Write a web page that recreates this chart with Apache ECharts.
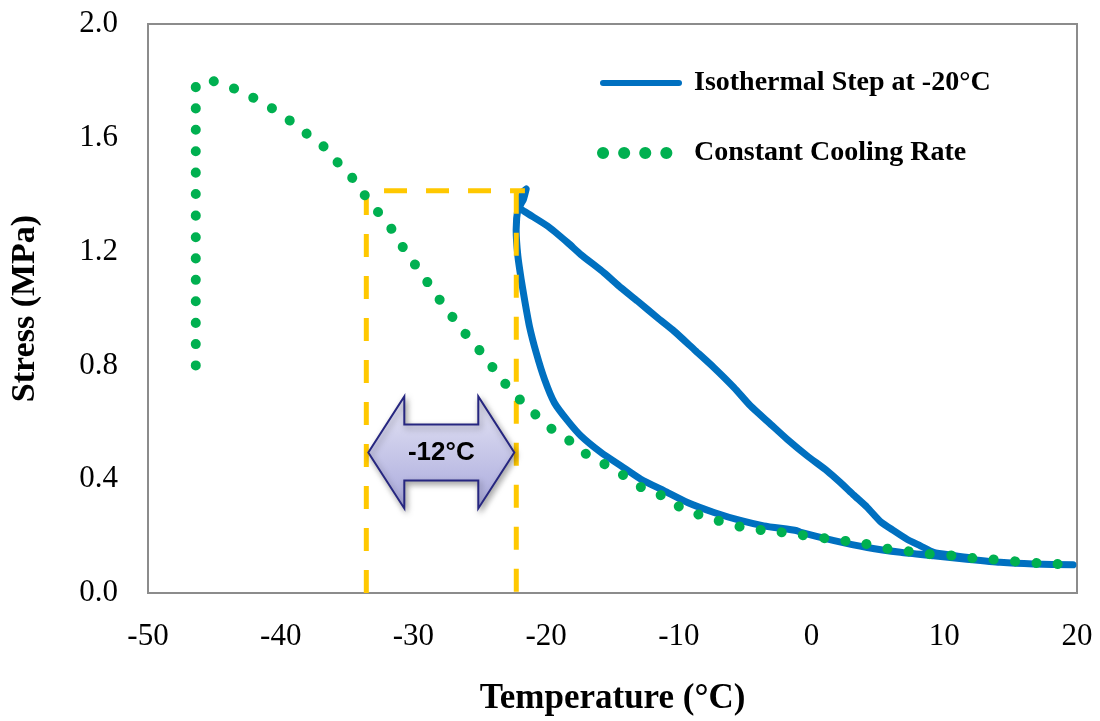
<!DOCTYPE html>
<html lang="en">
<head>
    <meta charset="UTF-8">
    <title>Stress vs Temperature</title>
    <script src="https://cdn.jsdelivr.net/npm/echarts@6/dist/echarts.min.js"></script>
    <style type="text/css">
        body { margin: 0; background: #fff; }
    </style>
</head>
<body>
<div id="myChart" style="width: 1100px;height:721px;"></div>

<script>
    // Isothermal step at -20°C : [temperature, stress]
    var isothermal = [
        [19.7, 0.099], [16.7, 0.102], [14.2, 0.108], [11.7, 0.119], [9.2, 0.131], [6.7, 0.143],
        [4.2, 0.160], [1.7, 0.184], [-0.8, 0.213], [-1.1, 0.219], [-3.6, 0.236], [-5.3, 0.254],
        [-7.35, 0.283], [-9.35, 0.318], [-11.1, 0.359], [-12.86, 0.400], [-14.36, 0.447],
        [-15.86, 0.494], [-17.37, 0.552], [-18.37, 0.605], [-19.38, 0.669], [-20.12, 0.751],
        [-20.75, 0.845], [-21.26, 0.938], [-21.63, 1.032], [-21.88, 1.102], [-22.13, 1.184],
        [-22.26, 1.277], [-22.1, 1.36], [-21.75, 1.41], [-21.5, 1.42], [-21.7, 1.385],
        [-22.0, 1.355], [-21.63, 1.341], [-19.87, 1.289], [-18.37, 1.231], [-17.37, 1.189],
        [-15.62, 1.125], [-14.36, 1.073], [-13.11, 1.026], [-11.6, 0.967], [-10.35, 0.920],
        [-8.85, 0.856], [-7.35, 0.792], [-5.84, 0.722], [-4.59, 0.657], [-3.08, 0.593],
        [-1.83, 0.540], [-0.33, 0.482], [1.18, 0.429], [2.18, 0.388], [3.18, 0.344],
        [4.19, 0.301], [5.19, 0.251], [6.19, 0.219], [7.19, 0.189], [8.2, 0.166],
        [9.2, 0.143], [10.5, 0.133], [12.0, 0.124]
    ];

    // Constant cooling rate : [temperature, stress]
    var constantRate = [
        [-46.4, 0.80], [-46.4, 1.78], [-45.9, 1.80], [-45.3, 1.80], [-44.1, 1.785], [-42.8, 1.757],
        [-41.1, 1.718], [-40.1, 1.684], [-38.95, 1.649], [-37.9, 1.609], [-36.8, 1.571],
        [-35.8, 1.518], [-34.76, 1.468], [-33.86, 1.41], [-32.9, 1.352], [-31.9, 1.297],
        [-31.15, 1.241], [-30.28, 1.18], [-29.35, 1.12], [-28.5, 1.062], [-27.65, 1.007],
        [-26.71, 0.949], [-25.77, 0.893], [-24.89, 0.846], [-24.0, 0.791], [-23.18, 0.741],
        [-22.18, 0.689], [-21.26, 0.649], [-20.23, 0.601], [-19.17, 0.563], [-18.17, 0.533],
        [-17.07, 0.491], [-15.81, 0.458], [-14.74, 0.432], [-13.56, 0.393], [-12.65, 0.367],
        [-11.23, 0.341], [-9.95, 0.303], [-8.59, 0.277], [-7.27, 0.257], [-6.09, 0.244],
        [-4.89, 0.226], [-3.71, 0.221], [-2.38, 0.214], [-1.2, 0.206], [0.3, 0.198],
        [1.18, 0.191], [2.56, 0.183], [3.89, 0.175], [4.98, 0.161], [6.26, 0.152],
        [7.37, 0.146], [8.65, 0.138], [9.7, 0.133], [10.85, 0.131], [12.08, 0.123],
        [13.38, 0.119], [14.71, 0.115], [16.02, 0.107], [17.27, 0.105], [18.47, 0.102],
        [19.72, 0.098]
    ];

    // yellow guide lines marking the -12°C shift
    var guideLeft = [[-33.55, 0], [-33.55, 1.414], [-21.6, 1.414]];
    var guideRight = [[-22.25, 1.414], [-22.25, 0]];

    // double arrow: [tempLeft, tempRight, stress], label
    var shiftArrow = { from: -33.4, to: -22.4, y: 0.494, label: '-12°C' };

    var xTicks = { min: -50, max: 20, interval: 10 };
    var yTicks = { min: 0, max: 2, interval: 0.4 };

    var serif = '"Liberation Serif", "Times New Roman", serif';
    var yellow = '#FFC800';
    var blue = '#0070C0';
    var green = '#00B050';

    var myChart = echarts.init(document.getElementById('myChart'));

    var option = {
        animation: false,
        grid: {
            left: 146, right: 23, top: 24, bottom: 127,
            show: true,
            borderColor: '#8c8c8c',
            borderWidth: 2
        },
        legend: {
            orient: 'vertical',
            left: 592,
            top: 64,
            itemWidth: 76,
            itemHeight: 14,
            itemGap: 42,
            textStyle: {
                fontFamily: serif,
                fontWeight: 'bold',
                fontSize: 28,
                color: '#000',
                padding: [0, 0, 0, 10]
            },
            data: [
                {
                    name: 'Isothermal Step at -20°C',
                    itemStyle: { opacity: 0 },
                    lineStyle: { color: blue, width: 6, cap: 'round' }
                },
                {
                    name: 'Constant Cooling Rate',
                    itemStyle: { opacity: 0 },
                    lineStyle: { color: green, width: 12, type: [0.1, 21], cap: 'round' }
                }
            ]
        },
        xAxis: {
            type: 'value',
            min: xTicks.min,
            max: xTicks.max,
            interval: xTicks.interval,
            name: 'Temperature (°C)',
            nameLocation: 'middle',
            nameGap: 88,
            nameTextStyle: {
                fontFamily: serif, fontWeight: 'bold', fontSize: 35, color: '#000'
            },
            axisLine: { show: false },
            axisTick: { show: false },
            splitLine: { show: false },
            axisLabel: {
                fontFamily: serif, fontSize: 31, color: '#000', margin: 28
            }
        },
        yAxis: {
            type: 'value',
            min: yTicks.min,
            max: yTicks.max,
            interval: yTicks.interval,
            name: 'Stress (MPa)',
            nameLocation: 'middle',
            nameGap: 106,
            nameTextStyle: {
                fontFamily: serif, fontWeight: 'bold', fontSize: 34, color: '#000'
            },
            axisLine: { show: false },
            axisTick: { show: false },
            splitLine: { show: false },
            axisLabel: {
                fontFamily: serif, fontSize: 31, color: '#000', margin: 30,
                formatter: function (v) { return v.toFixed(1); }
            }
        },
        series: [
            {
                name: 'Isothermal Step at -20°C',
                type: 'line',
                data: isothermal,
                symbol: 'none',
                smooth: 0.2,
                z: 2,
                lineStyle: { color: blue, width: 7, cap: 'round', join: 'round' },
                itemStyle: { color: blue }
            },
            {
                name: 'guide1',
                type: 'line',
                data: guideLeft,
                symbol: 'none',
                z: 3,
                lineStyle: { color: yellow, width: 5, type: [23, 19] }
            },
            {
                name: 'guide2',
                type: 'line',
                data: guideRight,
                symbol: 'none',
                z: 3,
                lineStyle: { color: yellow, width: 5, type: [23, 19] }
            },
            {
                name: 'Constant Cooling Rate',
                type: 'line',
                data: constantRate,
                symbol: 'none',
                smooth: 0.3,
                z: 4,
                lineStyle: { color: green, width: 10, type: [0.1, 21.3], cap: 'round' },
                itemStyle: { color: green }
            }
        ]
    };

    myChart.setOption(option);

    // draw the block double arrow from data coordinates
    function drawArrow() {
        var a = shiftArrow;
        var pl = myChart.convertToPixel({ gridIndex: 0 }, [a.from, a.y]);
        var pr = myChart.convertToPixel({ gridIndex: 0 }, [a.to, a.y]);
        var cy = pl[1];
        var headW = 36, headH = 56, shaftH = 28;
        var pts = [
            [pl[0], cy],
            [pl[0] + headW, cy - headH],
            [pl[0] + headW, cy - shaftH],
            [pr[0] - headW, cy - shaftH],
            [pr[0] - headW, cy - headH],
            [pr[0], cy],
            [pr[0] - headW, cy + headH],
            [pr[0] - headW, cy + shaftH],
            [pl[0] + headW, cy + shaftH],
            [pl[0] + headW, cy + headH]
        ];
        myChart.setOption({
            graphic: [
                {
                    type: 'polygon',
                    z: 100,
                    shape: { points: pts },
                    style: {
                        fill: new echarts.graphic.LinearGradient(0, 0, 0, 1, [
                            { offset: 0, color: '#e6e6f5' },
                            { offset: 1, color: '#a9a9dc' }
                        ]),
                        stroke: '#262680',
                        lineWidth: 2,
                        shadowBlur: 6,
                        shadowOffsetX: 2,
                        shadowOffsetY: 3,
                        shadowColor: 'rgba(0,0,0,0.35)'
                    }
                },
                {
                    type: 'text',
                    z: 101,
                    x: (pl[0] + pr[0]) / 2,
                    y: cy,
                    style: {
                        text: a.label,
                        fontFamily: '"Liberation Sans", Arial, sans-serif',
                        fontWeight: 'bold',
                        fontSize: 26,
                        fill: '#000',
                        align: 'center',
                        verticalAlign: 'middle'
                    }
                }
            ]
        });
    }
    drawArrow();
</script>
</body>
</html>
